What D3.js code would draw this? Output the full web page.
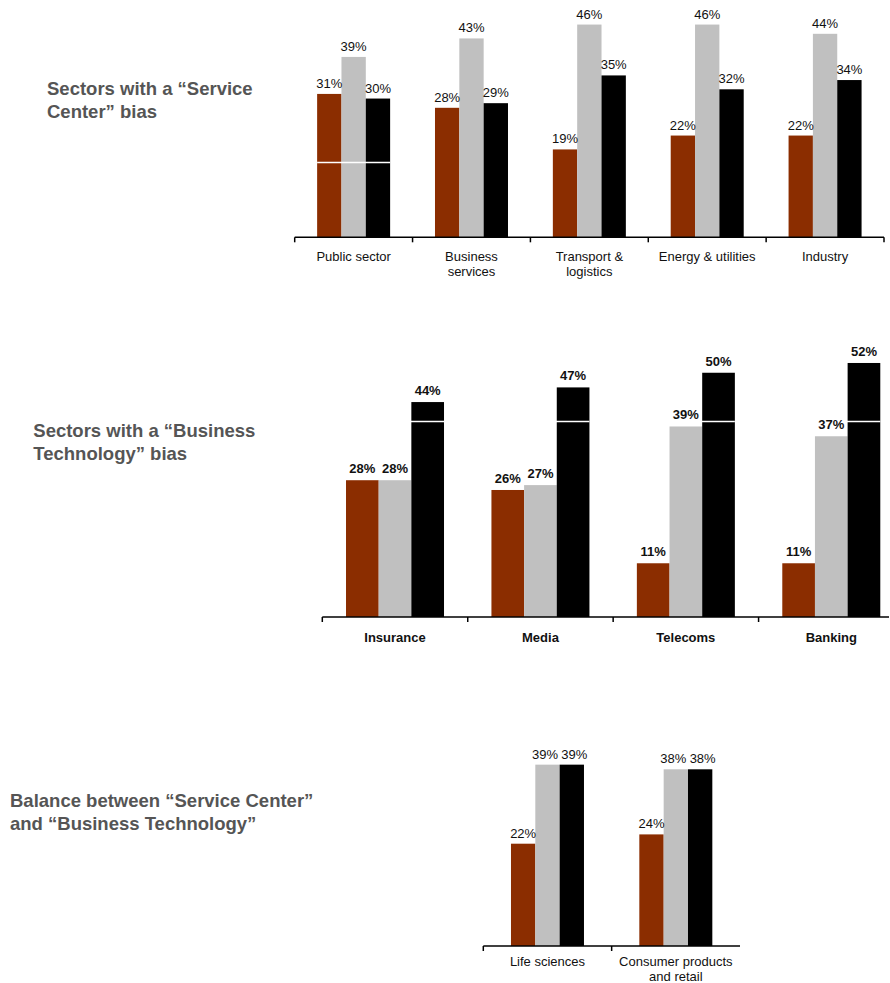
<!DOCTYPE html>
<html>
<head>
<meta charset="utf-8">
<script src="https://cdn.jsdelivr.net/npm/d3@7"></script>
<style>
  body { margin: 0; background: #fff; }
  svg { display: block; font-family: "Liberation Sans", Arial, sans-serif; }
</style>
</head>
<body>
<svg id="chart" width="890" height="983"></svg>
<script>
// Series colours: red-brown, grey, black
const seriesColors = ["#8B2D00", "#C0C0C0", "#000000"];

// Sectors with a "Service Center" bias
const serviceCategories = ["Public sector", "Business\nservices", "Transport &\nlogistics", "Energy & utilities", "Industry"];
const serviceRed = [31, 28, 19, 22, 22];
const serviceGrey = [39, 43, 46, 46, 44];
const serviceBlack = [30, 29, 35, 32, 34];

// Sectors with a "Business Technology" bias
const techCategories = ["Insurance", "Media", "Telecoms", "Banking"];
const techRed = [28, 26, 11, 11];
const techGrey = [28, 27, 39, 37];
const techBlack = [44, 47, 50, 52];

// Balanced sectors
const balanceCategories = ["Life sciences", "Consumer products\nand retail"];
const balanceRed = [22, 24];
const balanceGrey = [39, 38];
const balanceBlack = [39, 38];

const panelTitles = [
  ["Sectors with a \u201cService", "Center\u201d bias"],
  ["Sectors with a \u201cBusiness", "Technology\u201d bias"],
  ["Balance between \u201cService Center\u201d", "and \u201cBusiness Technology\u201d"]
];

const svg = d3.select("#chart");
svg.append("rect").attr("width", 890).attr("height", 983).attr("fill", "#fff");

function drawPanel(p) {
  const g = svg.append("g");
  const x = d3.scaleBand().domain(p.categories).range([p.left, p.right]);
  const y = d3.scaleLinear().domain([0, 50]).range([p.baseline, p.baseline - 50 * p.pxPerPct]);
  const xs = d3.scaleBand().domain([0, 1, 2]).range([0, p.groupWidth]);
  const groupX = c => x(c) + (x.bandwidth() - p.groupWidth) / 2;

  const rows = p.categories.map((c, i) => ({ cat: c, vals: p.series.map(s => s[i]) }));

  // bars
  const barLayer = g.append("g");
  barLayer.selectAll("g.grp").data(rows).join("g")
    .attr("class", "grp")
    .attr("transform", d => `translate(${groupX(d.cat)},0)`)
    .selectAll("rect").data(d => d.vals).join("rect")
    .attr("x", (v, j) => xs(j))
    .attr("y", v => y(v))
    .attr("width", xs.bandwidth())
    .attr("height", v => y(0) - y(v))
    .attr("fill", (v, j) => seriesColors[j]);

  // white reference rule over the bars
  if (p.rule) {
    g.append("g").selectAll("line").data(p.rule.categories).join("line")
      .attr("x1", c => groupX(c)).attr("x2", c => groupX(c) + p.groupWidth)
      .attr("y1", y(p.rule.value)).attr("y2", y(p.rule.value))
      .attr("stroke", "#fff").attr("stroke-width", 1.5);
  }

  // value labels; neighbours of equal height are eased apart so they don't touch
  const labelShift = (vals, j) => {
    const clash = k => k >= 0 && k < vals.length && Math.abs(vals[k] - vals[j]) < 2;
    let s = 0;
    if (clash(j - 1)) s += 2.5;
    if (clash(j + 1)) s -= 2.5;
    return xs.bandwidth() < 28 ? s : 0;
  };
  const labelLayer = g.append("g");
  labelLayer.selectAll("g.lbl").data(rows).join("g")
    .attr("class", "lbl")
    .attr("transform", d => `translate(${groupX(d.cat)},0)`)
    .each(function (d) {
      d3.select(this).selectAll("text").data(d.vals).join("text")
        .attr("x", (v, j) => xs(j) + xs.bandwidth() / 2 + labelShift(d.vals, j))
        .attr("y", v => y(v) - p.labelGap)
        .attr("text-anchor", "middle")
        .attr("font-size", 13)
        .attr("font-weight", p.bold ? "bold" : "normal")
        .attr("fill", "#111")
        .text(v => v + "%");
    });

  // baseline axis with ticks on band boundaries
  const axisEnd = Math.min(p.right, 889);
  g.append("line")
    .attr("x1", p.left).attr("x2", axisEnd)
    .attr("y1", p.baseline).attr("y2", p.baseline)
    .attr("stroke", "#000").attr("stroke-width", 1.5);
  const tickXs = p.categories.map(c => x(c));
  if (p.endTick) tickXs.push(p.right);
  g.selectAll("line.tick").data(tickXs).join("line")
    .attr("class", "tick")
    .attr("x1", d => d).attr("x2", d => d)
    .attr("y1", p.baseline).attr("y2", p.baseline + 5)
    .attr("stroke", "#000").attr("stroke-width", 1.5);

  // category labels
  const cat = g.selectAll("text.cat").data(p.categories).join("text")
    .attr("class", "cat")
    .attr("text-anchor", "middle")
    .attr("font-size", 13)
    .attr("font-weight", p.bold ? "bold" : "normal")
    .attr("fill", "#111")
    .attr("y", p.catBaseline);
  cat.each(function (c) {
    const t = d3.select(this);
    const cx = x(c) + x.bandwidth() / 2;
    c.split("\n").forEach((line, k) => {
      t.append("tspan").attr("x", cx).attr("dy", k === 0 ? 0 : 15).text(line);
    });
  });

  // panel title
  const title = svg.append("text")
    .attr("x", p.titleX).attr("y", p.titleY)
    .attr("font-size", 18.5)
    .attr("font-weight", "bold")
    .attr("fill", "#555");
  p.title.forEach((line, k) => {
    title.append("tspan").attr("x", p.titleX).attr("dy", k === 0 ? 0 : 23.3).text(line);
  });
}

drawPanel({
  title: panelTitles[0], titleX: 47, titleY: 95,
  categories: serviceCategories, series: [serviceRed, serviceGrey, serviceBlack],
  left: 294.7, right: 884, baseline: 237.3, pxPerPct: 4.625, groupWidth: 73,
  labelGap: 6, catBaseline: 260.7, bold: false, endTick: true,
  rule: { value: 16.2, categories: [serviceCategories[0]] }
});

drawPanel({
  title: panelTitles[1], titleX: 33.3, titleY: 436.7,
  categories: techCategories, series: [techRed, techGrey, techBlack],
  left: 322.3, right: 904, baseline: 617, pxPerPct: 4.885, groupWidth: 98,
  labelGap: 7, catBaseline: 642, bold: true, endTick: false,
  rule: { value: 40, categories: techCategories }
});

drawPanel({
  title: panelTitles[2], titleX: 10, titleY: 806.7,
  categories: balanceCategories, series: [balanceRed, balanceGrey, balanceBlack],
  left: 483.3, right: 740, baseline: 946, pxPerPct: 4.65, groupWidth: 73,
  labelGap: 6, catBaseline: 965.7, bold: false, endTick: false
});
</script>
</body>
</html>
